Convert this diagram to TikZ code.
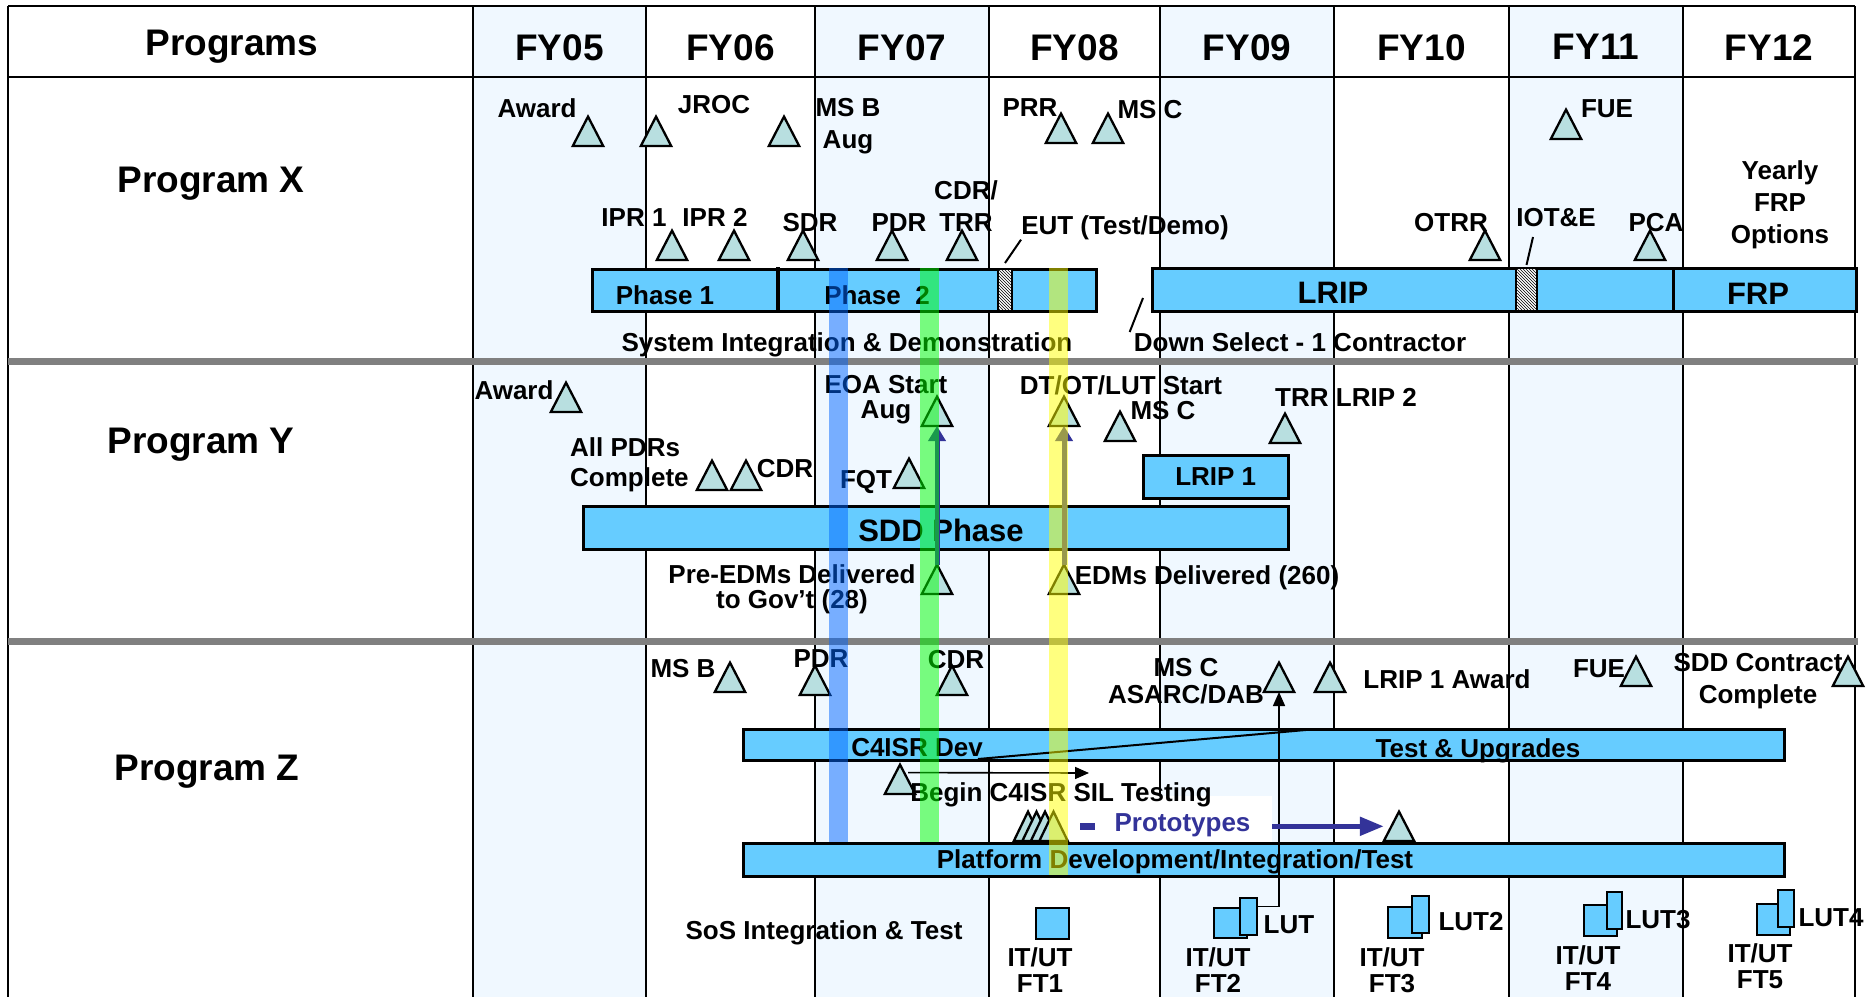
\documentclass[tikz,border=0pt]{standalone}
\usepackage{fontspec}
\setmainfont{Liberation Sans}
\usepackage{xcolor}
\usetikzlibrary{arrows.meta,patterns}

\definecolor{barblue}{RGB}{102,204,255}
\definecolor{colshade}{RGB}{240,248,255}
\definecolor{mstone}{RGB}{184,223,224}
\definecolor{navy}{RGB}{51,51,153}
\definecolor{sepgray}{RGB}{128,128,128}
\definecolor{bandblue}{RGB}{0,102,255}
\definecolor{bandgreen}{RGB}{0,255,0}
\definecolor{bandyellow}{RGB}{255,255,0}

\begin{document}
\begin{tikzpicture}[x=1pt, y=-1pt,
    grid/.style={line width=2pt},
    colbox/.style={draw, line width=2pt, fill=colshade},
    sep/.style={draw=sepgray, line width=7pt},
    bar/.style={draw, line width=2.5pt, fill=barblue, anchor=north west, inner sep=0pt},
    ftbox/.style={bar, line width=2.3pt},
    hatch/.style={draw, line width=2pt, fill=white, anchor=north west, inner sep=0pt,
      postaction={pattern=north west lines}},
    msbox/.style={anchor=south, minimum width=30pt, minimum height=29pt, inner sep=0pt},
    tri/.style={draw, line width=2.3pt, fill=mstone},
    lbl/.style={anchor=north, inner sep=0pt, align=center, font=\fontsize{26}{32}\selectfont\bfseries},
    head/.style={anchor=north, inner sep=0pt, font=\fontsize{37}{44}\selectfont\bfseries},
    big/.style={anchor=north, inner sep=0pt, font=\fontsize{31}{37}\selectfont\bfseries},
    lead/.style={line width=2pt},
    navyarrow/.style={draw=navy, line width=5pt, -{Triangle[length=15pt,width=17pt]}},
    thinarrow/.style={line width=1.6pt, -{Triangle[length=14pt,width=12pt]}},
    band/.style={opacity=0.5}]

    \useasboundingbox (0,0) rectangle (1870,996);
    \fill[white] (0,0) rectangle (1870,996);

    % grid of fiscal years
    \foreach \a/\b in {473/646,815/989,1160/1334,1509/1683}
      \draw[colbox] (\a,6) rectangle (\b,1000);
    \foreach \x in {8,473,646,815,989,1160,1334,1509,1683,1855}
      \draw[grid] (\x,6) -- (\x,1000);
    \draw[grid] (8,6) -- (1855,6);
    \draw[grid] (8,77) -- (1855,77);
    \draw[sep] (8,361) -- (1858,361);
    \draw[sep] (8,641) -- (1858,641);

    \node[head] (progs) at (232,30) {Programs};
    \foreach \n/\x in {05/559.5,06/730.5,07/902,08/1074.5,09/1247,10/1421.5,11/1596,12/1769}
      \node[head] (fy\n) at (\x,34) {FY\n};
    \node[head] (pX) at (211,167) {Program X};
    \node[head] (pY) at (201,428) {Program Y};
    \node[head] (pZ) at (207,755) {Program Z};

    \node[fill=white, anchor=north west, minimum width=204pt, minimum height=46pt, inner sep=0pt] (protoBox) at (1068,796) {};

    % bars
    \node[bar, minimum width=504pt, minimum height=42pt] (phX) at (591,268) {};
    \draw[line width=4pt] (778,267) -- (778,312);
    \node[hatch, minimum width=14pt, minimum height=42pt] (eutBox) at (997,268) {};
    \node[bar, minimum width=521pt, minimum height=43pt] (lripX) at (1151,267) {};
    \node[hatch, minimum width=21pt, minimum height=43pt] (iotBox) at (1515,267) {};
    \node[bar, minimum width=183pt, minimum height=43pt] (frpX) at (1672,267) {};
    \node[bar, minimum width=705pt, minimum height=43pt] (sddY) at (582,505) {};
    \node[bar, minimum width=145pt, minimum height=43pt, font=\fontsize{26}{32}\selectfont\bfseries] (lrip1Y) at (1142,454) {LRIP 1};
    \node[bar, minimum width=1041pt, minimum height=31pt] (c4Z) at (742,728) {};
    \draw[line width=2pt] (978,759) -- (1317,729);
    \node[bar, minimum width=1041pt, minimum height=33pt] (platZ) at (742,842) {};

    \node[ftbox, minimum width=33pt, minimum height=31pt] (ft1) at (1035,907) {};
    \node[ftbox, minimum width=33pt, minimum height=30pt] (ft2a) at (1213,907) {};
    \node[ftbox, minimum width=17pt, minimum height=37pt] (ft2b) at (1239,897) {};
    \node[ftbox, minimum width=34pt, minimum height=31pt] (ft3a) at (1387,906) {};
    \node[ftbox, minimum width=17pt, minimum height=37pt] (ft3b) at (1411,895) {};
    \node[ftbox, minimum width=33pt, minimum height=31pt] (ft4a) at (1583,904) {};
    \node[ftbox, minimum width=15pt, minimum height=37pt] (ft4b) at (1606,891) {};
    \node[ftbox, minimum width=33pt, minimum height=31pt] (ft5a) at (1756,903) {};
    \node[ftbox, minimum width=16pt, minimum height=37pt] (ft5b) at (1777,889) {};

    % milestones
    \foreach \n/\x/\y in {xAward/588/146, xJroc/656/146, xMsb/784/146, xPrr/1061/143, xMsc/1108/143,
        xFue/1566/139, xIpr1/672/260, xIpr2/734/260, xSdr/803/260, xPdr/892/260, xCdr/962/260,
        xOtrr/1485/260, xPca/1650/260,
        yAward/566/412, yPdr/712/490, yCdr/746/490, yFqt/909/488, yEOA/937/426, yDt/1064/426,
        yMsc/1120/441, yTrr/1285/443, yPre/937/594, yEdm/1064/594,
        zMsb/730/692, zPdr/815/695, zCdr/952/695, zMsc/1279/692, zLrip/1330/692, zFue/1636/686,
        zSdd/1848/686, zBegin/900/794, zProto/1399/841} {
      \node[msbox] (\n) at (\x,\y) {};
      \draw[tri] (\n.south west) -- (\n.north) -- (\n.south east) -- cycle;
    }
    \foreach \n/\x in {zP1/1028, zP2/1036.5, zP3/1045, zP4/1053.5} {
      \node[msbox, minimum width=28pt] (\n) at (\x,841) {};
      \draw[tri] (\n.south west) -- (\n.north) -- (\n.south east) -- cycle;
    }

    % Program X
    \node[lbl] (lxAward) at (537,98) {Award};
    \node[lbl] (lxJroc) at (714,95) {JROC};
    \node[lbl] (lxMsb) at (848,98) {MS B\\Aug};
    \node[lbl] (lxPrr) at (1030,98) {PRR};
    \node[lbl] (lxMsc) at (1150,100) {MS C};
    \node[lbl] (lxFue) at (1607,99) {FUE};
    \node[lbl] (lxIpr1) at (634,208) {IPR 1};
    \node[lbl] (lxIpr2) at (715,208) {IPR 2};
    \node[lbl] (lxSdr) at (810,213) {SDR};
    \node[lbl] (lxPdr) at (899,213) {PDR};
    \node[lbl] (lxCdr) at (966,180) {CDR/\\TRR};
    \node[lbl] (lxEut) at (1125,215) {EUT (Test/Demo)};
    \node[lbl] (lxOtrr) at (1451,213) {OTRR};
    \node[lbl] (lxIot) at (1556,208) {IOT\&E};
    \node[lbl] (lxPca) at (1656,213) {PCA};
    \node[lbl] (lxFrpo) at (1780,160) {Yearly\\FRP\\Options};
    \node[lbl] (lxPh1) at (665,285) {Phase 1};
    \node[lbl] (lxPh2) at (877,285) {Phase\ \ 2};
    \node[big] (lxLrip) at (1333,282) {LRIP};
    \node[big] (lxFrp) at (1758,283) {FRP};
    \node[lbl] (lxSid) at (847,332) {System Integration \& Demonstration};
    \node[lbl] (lxDs) at (1300,332) {Down Select - 1 Contractor};
    \coordinate (iotLead) at (1533,237);
    \coordinate (dsLead) at (1143,298);
    \draw[lead] ([yshift=5pt]eutBox.north) -- (lxEut.south west);
    \draw[lead] ([yshift=2pt]iotBox.north) -- (iotLead);
    \draw[lead] (dsLead) -- ([xshift=-4pt]lxDs.north west);

    % Program Y
    \node[lbl] (lyAward) at (514,380) {Award};
    \node[lbl, anchor=north west, align=left] (lyPdr) at (570,437) {All PDRs\\[-2pt]Complete};
    \node[lbl] (lyCdr) at (785,459) {CDR};
    \node[lbl] (lyFqt) at (866,470) {FQT};
    \node[lbl] (lyEoa) at (886,375) {EOA Start\\[-7pt]Aug};
    \node[lbl] (lyDt) at (1121,375) {DT/OT/LUT Start};
    \node[lbl] (lyMsc) at (1163,401) {MS C};
    \node[lbl] (lyTrr) at (1346,388) {TRR LRIP 2};
    \node[big] (lySdd) at (941,519) {SDD Phase};
    \node[lbl] (lyPre) at (792,564) {Pre-EDMs Delivered\\[-7pt]to Gov’t (28)};
    \node[lbl] (lyEdm) at (1207,565) {EDMs Delivered (260)};

    % Program Z
    \node[lbl] (lzMsb) at (683,659) {MS B};
    \node[lbl] (lzPdr) at (821,649) {PDR};
    \node[lbl] (lzCdr) at (956,650) {CDR};
    \node[lbl] (lzMsc) at (1186,658) {MS C\\[-5pt]ASARC/DAB};
    \node[lbl] (lzLrip) at (1447,669) {LRIP 1 Award};
    \node[lbl] (lzFue) at (1599,659) {FUE};
    \node[lbl] (lzSdd) at (1758,653) {SDD Contract\\Complete};
    \node[lbl] (lzC4) at (917,738) {C4ISR Dev};
    \node[lbl] (lzTest) at (1478,738) {Test \& Upgrades};
    \node[lbl] (lzBegin) at (1061,782) {Begin C4ISR SIL Testing};
    \node[lbl, text=navy] (lzProto) at (1165,813) {\rule[1pt]{15pt}{7pt}\hspace{20pt}Prototypes};
    \node[lbl] (lzPlat) at (1175,849) {Platform Development/Integration/Test};
    \node[lbl] (lzSos) at (824,920) {SoS Integration \& Test};
    \node[lbl] (lzFt1) at (1040,947) {IT/UT\\[-6pt]FT1};
    \node[lbl] (lzLut) at (1289,915) {LUT};
    \node[lbl] (lzFt2) at (1218,947) {IT/UT\\[-6pt]FT2};
    \node[lbl] (lzLut2) at (1471,912) {LUT2};
    \node[lbl] (lzFt3) at (1392,947) {IT/UT\\[-6pt]FT3};
    \node[lbl] (lzLut3) at (1658,910) {LUT3};
    \node[lbl] (lzFt4) at (1588,945) {IT/UT\\[-6pt]FT4};
    \node[lbl] (lzLut4) at (1831,908) {LUT4};
    \node[lbl] (lzFt5) at (1760,943) {IT/UT\\[-6pt]FT5};

    % connectors
    \coordinate (silEnd) at (1089,773);
    \draw[thinarrow] ([xshift=8pt,yshift=-8pt]zBegin.north) -- (silEnd);
    \draw[thinarrow] ([yshift=10pt]ft2b.east) -| (zMsc.south);
    \draw[navyarrow] (yPre.north) -- (yEOA.south);
    \draw[navyarrow] (yEdm.north) -- (yDt.south);
    \draw[navyarrow, -{Triangle[length=24pt,width=18pt]}] (protoBox.east |- zProto.center) -- (zProto.west);

    % highlight bands
    \fill[band, bandblue] (829,268) rectangle (848,842);
    \fill[band, bandgreen] (920,268) rectangle (939,842);
    \fill[band, bandyellow] (1049,268) rectangle (1068,875);
\end{tikzpicture}
\end{document}
